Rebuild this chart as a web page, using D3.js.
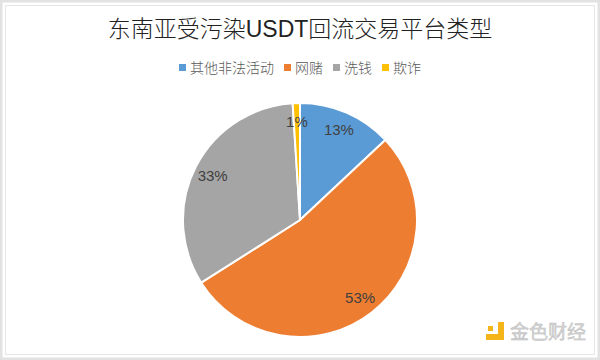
<!DOCTYPE html>
<html><head><meta charset="utf-8">
<script src="https://cdn.jsdelivr.net/npm/d3@7"></script>
<style>body{margin:0;background:#fff}svg{display:block}</style>
</head><body>
<svg id="c" width="600" height="360"></svg>
<script>
const title = "东南亚受污染USDT回流交易平台类型";
const categories = ["其他非法活动", "网赌", "洗钱", "欺诈"];
const values = [13, 53, 33, 1];
const colors = ["#5B9BD5", "#ED7D31", "#A5A5A5", "#FFC000"];

const svg = d3.select("#c");
const W = 600, H = 360;
const font = "'Liberation Sans', 'Noto Sans CJK SC', sans-serif";

// frames
svg.append("rect").attr("x",1).attr("y",1).attr("width",W-2).attr("height",H-2)
  .attr("fill","none").attr("stroke","#e2e2e2").attr("stroke-width",3);
svg.append("rect").attr("x",5.5).attr("y",5.5).attr("width",W-11).attr("height",H-11)
  .attr("fill","none").attr("stroke","#e6e6e6").attr("stroke-width",1);

svg.append("text").attr("x",300).attr("y",37).attr("text-anchor","middle")
  .attr("font-family",font).attr("font-size",23).attr("font-weight",300).attr("fill","#222").text(title);

// legend
const legend = svg.append("g").attr("font-family",font).attr("font-size",14).attr("font-weight",300).attr("fill","#595959");
const items = [];
categories.forEach((c,i)=>{
  const g = legend.append("g");
  g.append("rect").attr("x",0).attr("y",-4).attr("width",7).attr("height",7).attr("fill",colors[i]);
  const t = g.append("text").attr("x",11).attr("y",0).attr("dy","0.35em").text(c);
  const w = 11 + t.node().getComputedTextLength();
  items.push({g,w});
});
const gap = 10;
const total = items.reduce((s,d)=>s+d.w,0) + gap*(items.length-1);
let x0 = 300 - total/2;
items.forEach(d=>{ d.g.attr("transform",`translate(${x0},68)`); x0 += d.w + gap; });

// pie
const cx = 300, cy = 220, r = 117;
const pie = d3.pie().sort(null).value(d=>d)(values);
const arc = d3.arc().innerRadius(0).outerRadius(r);
const labelArc = d3.arc().innerRadius(98).outerRadius(98);
const gp = svg.append("g").attr("transform",`translate(${cx},${cy})`);
gp.selectAll("path").data(pie).join("path")
  .attr("d",arc).attr("fill",(d,i)=>colors[i])
  .attr("stroke","#fff").attr("stroke-width",2).attr("stroke-linejoin","round");
gp.selectAll("text").data(pie).join("text")
  .attr("transform",d=>`translate(${labelArc.centroid(d)})`)
  .attr("text-anchor","middle").attr("dy","0.35em")
  .attr("font-family",font).attr("font-size",15).attr("fill","#404040")
  .text(d=>d.data+"%");

// watermark
const wm = svg.append("g").attr("transform","translate(486,322)");
wm.append("rect").attr("x",12).attr("y",0).attr("width",6).attr("height",18).attr("fill","#F5B418");
wm.append("rect").attr("x",0).attr("y",12).attr("width",18).attr("height",6).attr("fill","#F5B418");
wm.append("rect").attr("x",2).attr("y",4).attr("width",5).attr("height",5).attr("fill","#F5B418");
svg.append("text").attr("x",510).attr("y",339).attr("font-family","'Noto Sans CJK SC', sans-serif")
  .attr("font-size",19).attr("fill","#d4d4d4").attr("stroke","#b8b8b8").attr("stroke-width",0.4)
  .text("金色财经");
</script>
</body></html>
